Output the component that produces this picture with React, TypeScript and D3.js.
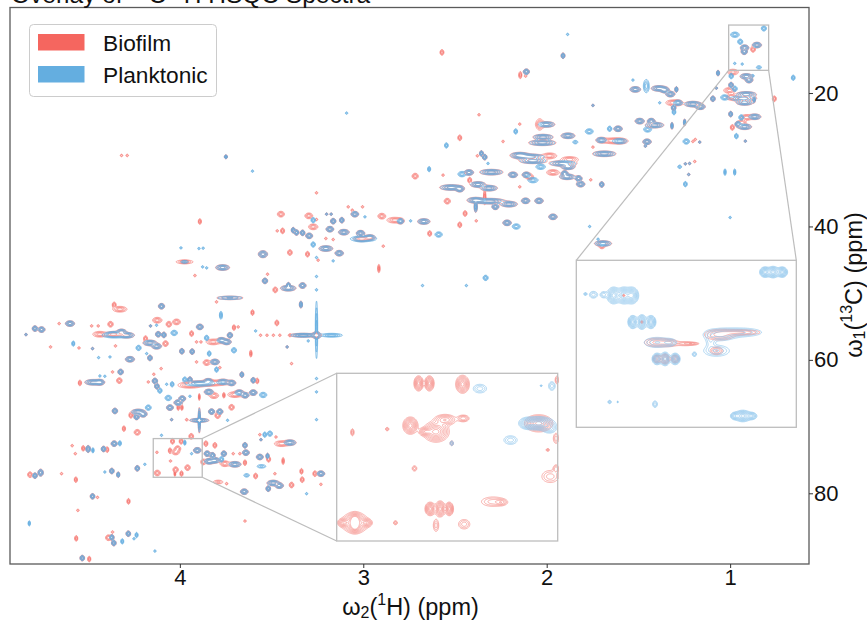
import React, { useEffect, useRef } from 'react';
import * as d3 from 'd3';

// peak tuples: [1H ppm, 13C ppm, 1H sigma, 13C sigma, height]; short tuples fall back to the defaults below
type Peak = number[];

const xTicks = [1, 2, 3, 4];
const yTicks = [20, 40, 60, 80];
const legendLabels = ['Biofilm', 'Planktonic'];

const sharedPeaks: Peak[] = [
  [3.749, 29.56, 0.004, 0.14], [3.2, 38.16], [3.175, 38.16], [3.046, 38.16, 0.01], [3.164, 39.21, 0.007], [3.117, 39.06, 0.006],
  [2.797, 39.21, 0.009], [2.67, 39.26, 0.016], [3.382, 40.56, 0.005], [3.364, 40.91, 0.006], [3.331, 40.96, 0.006], [3.295, 41.41, 0.009],
  [3.182, 40.41, 0.01], [3.106, 40.86, 0.014], [3.015, 41.01, 0.011], [2.964, 41.66, 0.014], [3.01, 41.86, 0.02], [3.204, 43.31, 0.018],
  [3.131, 44.01, 0.011], [3.547, 44.16, 0.012, 0.25], [3.974, 45.31, 0.012, 0.12, 0.6], [3.767, 46.16, 0.018], [3.536, 48.16, 0.007],
  [3.409, 49.26, 0.02], [3.408, 48.81, 0.005], [3.331, 48.86, 0.009], [3.727, 50.71, 0.04, 0.15, 0.55], [3.34, 51.71, 0.004, 0.25],
  [4.1, 51.96, 0.008], [1.911, 14.41, 0.005], [2.111, 16.81, 0.008], [1.748, 21.86], [2.002, 24.71, 0.022], [1.884, 26.41, 0.018],
  [2.02, 26.61, 0.026], [2.024, 27.46, 0.035], [1.611, 25.36, 0.011], [1.702, 27.06, 0.014], [1.602, 27.21, 0.02], [1.453, 27.31, 0.011],
  [1.462, 27.96], [1.493, 24.21, 0.012], [1.43, 24.21, 0.01], [1.412, 24.81, 0.024], [1.686, 29.11, 0.03], [2.356, 29.06, 0.005],
  [2.338, 29.61, 0.006], [2.147, 29.31, 0.024], [2.093, 29.56, 0.04], [2.075, 30.16, 0.035], [1.911, 30.56, 0.035], [1.884, 31.06, 0.018],
  [2.424, 31.91, 0.012], [2.302, 31.86, 0.03], [2.184, 32.26, 0.012], [2.111, 32.26, 0.011], [1.902, 32.06, 0.009], [1.888, 32.56, 0.02],
  [1.826, 32.81, 0.009], [1.815, 33.66, 0.011], [1.7, 33.71, 0.006], [2.375, 33.71, 0.02], [2.315, 34.26, 0.022], [2.52, 34.16, 0.03],
  [2.474, 34.41, 0.011], [2.387, 36.06, 0.022], [2.311, 36.21, 0.04], [2.206, 36.66, 0.022], [2.387, 37.06, 0.004, 0.4], [2.28, 37.06, 0.009],
  [2.115, 36.16, 0.011], [2.042, 36.16, 0.011], [2.216, 39.46, 0.011], [1.966, 38.56, 0.011], [1.693, 42.56, 0.022], [1.517, 19.46, 0.014],
  [1.388, 19.31, 0.02], [1.326, 20.16, 0.012], [1.357, 19.56, 0.012], [1.293, 19.46, 0.004], [1.284, 21.46, 0.012], [1.203, 21.66, 0.022],
  [1.163, 22.06, 0.013], [1.308, 22.21, 0.006], [1.317, 24.91, 0.003, 0.25], [1.248, 24.41, 0.003, 0.25], [1.166, 27.36], [1.244, 30.61],
  [1.221, 30.56], [1.226, 32.21], [1.066, 17.01, 0.004], [1.075, 19.26], [0.912, 17.51, 0.016], [0.897, 18.06, 0.01], [0.995, 18.81, 0.006],
  [1.094, 20.86, 0.006], [0.912, 20.21, 0.026], [0.93, 20.81, 0.035], [0.921, 21.41, 0.022], [0.87, 21.01, 0.003, 0.2], [0.997, 23.16, 0.005],
  [0.866, 23.56, 0.016], [0.921, 25.06, 0.018], [0.957, 24.66, 0.008], [0.917, 27.21], [0.854, 12.81, 0.012], [0.921, 13.21, 0.011],
  [0.923, 13.81, 0.008], [4.79, 55.31, 0.007], [4.754, 55.46, 0.009], [4.839, 56.21], [4.599, 54.56, 0.012], [4.318, 55.81, 0.013],
  [4.29, 56.31, 0.02], [4.363, 56.16, 0.02], [4.476, 58.31], [4.272, 59.91, 0.012], [4.163, 59.71, 0.006], [4.323, 61.81, 0.007],
  [4.472, 63.36, 0.022], [4.436, 63.36, 0.012], [4.354, 67.66, 0.007], [4.227, 67.81, 0.018], [4.236, 68.56, 0.007], [4.2, 68.16, 0.01],
  [4.16, 54.91], [3.891, 55.06, 0.009], [4.118, 56.16, 0.007], [4.087, 56.26, 0.006], [4.163, 57.46, 0.018], [4.127, 57.96, 0.013],
  [3.989, 58.71, 0.006], [3.933, 58.76, 0.006], [3.727, 56.31, 0.007], [3.773, 57.06, 0.012], [3.745, 57.31, 0.012], [3.415, 58.06],
  [3.809, 60.31, 0.012], [3.662, 62.21, 0.005], [3.6, 63.06, 0.006], [3.945, 62.96, 0.006], [3.891, 63.56, 0.04], [3.845, 63.21, 0.012],
  [3.764, 63.31, 0.016], [3.718, 63.46, 0.011], [4.136, 63.16, 0.007], [4.125, 63.96, 0.006], [3.842, 64.81, 0.012], [3.676, 64.91, 0.012],
  [3.644, 65.31, 0.01], [3.6, 64.91, 0.01], [4.009, 66.41, 0.011], [3.987, 65.81, 0.009], [4.054, 67.16, 0.009], [3.827, 67.76, 0.008],
  [3.782, 67.76, 0.008], [3.894, 69.06, 0.025, 0.14], [3.894, 69.06, 0.003, 0.9], [4.045, 68.96], [3.905, 73.56, 0.01], [3.851, 74.06, 0.008],
  [3.822, 74.31, 0.007], [3.84, 75.21, 0.013], [3.809, 75.06, 0.013], [3.76, 74.06, 0.007], [3.7, 75.66, 0.016], [3.64, 73.91, 0.009],
  [3.645, 72.81, 0.006], [3.564, 74.56, 0.009], [3.522, 74.41, 0.004], [3.558, 71.96], [3.4, 72.41, 0.016], [3.231, 77.06, 0.01],
  [3.491, 78.46, 0.016], [3.458, 78.86, 0.011], [3.518, 79.31, 0.006], [3.649, 79.76, 0.01], [4.759, 76.91, 0.007, 0.25], [4.79, 77.36, 0.006],
  [4.476, 80.46, 0.006, 0.2], [4.371, 86.61, 0.006], [4.281, 86.06, 0.006], [4.36, 87.46, 0.006], [4.532, 89.71, 0.006], [4.5, 73.36, 0.006, 0.25],
  [4.416, 73.36, 0.006], [4.358, 72.56, 0.008], [4.371, 76.66, 0.006], [4.336, 77.21, 0.004], [4.232, 76.26, 0.006],
  [3.327, 56.31, 0.035, 0.14], [3.255, 56.31, 0.012, 0.25],
];

const biofilmPeaks: Peak[] = [
  [4.318, 29.36], [4.287, 29.36], [3.891, 39.26, 0.004], [2.717, 32.46, 0.008], [3.449, 38.16, 0.009], [3.297, 38.41, 0.01],
  [3.082, 37.06], [3.004, 37.06], [3.06, 37.56], [3.255, 38.96], [2.899, 38.46, 0.01], [2.828, 39.06, 0.02], [3.273, 40.06, 0.012],
  [3.44, 40.66, 0.005], [3.469, 40.66], [3.164, 41.96], [3.204, 41.81], [2.891, 42.96], [3.4, 43.91, 0.006], [3.304, 44.16, 0.005],
  [3.246, 45.06], [2.915, 46.31, 0.003, 0.3], [3.974, 45.31, 0.025, 0.15, 0.6], [3.918, 47.36], [3.522, 47.16], [3.48, 49.51, 0.006],
  [3.8, 51.31], [4.358, 51.76, 0.005], [4.327, 52.41, 0.018], [2.571, 13.91, 0.005], [2.144, 17.31, 0.004, 0.25], [2.115, 17.46],
  [2.369, 23.26], [2.147, 24.66], [2.038, 24.71, 0.01, 0.4], [2.474, 26.71, 0.005], [2.238, 27.26], [1.639, 27.16, 0.03], [1.748, 28.11],
  [2.378, 29.41], [1.984, 29.41, 0.018], [1.875, 29.96, 0.022], [2.565, 32.31], [2.093, 32.56, 0.01], [1.966, 31.91, 0.016], [1.76, 33.01],
  [2.42, 33.06, 0.005], [2.542, 36.21, 0.008], [2.338, 35.56, 0.003, 0.5], [2.445, 38.06, 0.005], [2.474, 39.76, 0.005], [2.384, 39.16],
  [2.147, 34.06], [2.638, 41.06, 0.005], [1.699, 42.91, 0.008], [1.312, 21.46, 0.018], [1.203, 27.26], [1.19, 26.96], [1.193, 30.26],
  [0.985, 16.86, 0.014], [1.003, 19.61, 0.015], [0.994, 20.56, 0.012], [0.759, 20.86, 0.005], [0.912, 23.66, 0.014], [0.934, 24.41, 0.01],
  [0.988, 25.16, 0.005], [0.875, 13.46, 0.006], [4.658, 54.56], [4.705, 58.06], [4.481, 54.91], [4.445, 54.91], [4.378, 54.66, 0.007],
  [4.436, 56.16, 0.018], [4.55, 58.21], [4.351, 57.91], [4.367, 61.81], [4.33, 63.11, 0.007], [4.545, 63.46, 0.004], [4.267, 68.31, 0.005],
  [4.305, 70.31, 0.004], [4.232, 70.86, 0.008], [4.123, 54.06, 0.012], [4.018, 54.31, 0.01], [4.06, 54.66, 0.007], [4.187, 56.81, 0.005],
  [4.078, 57.56, 0.007], [3.936, 56.06, 0.005], [3.818, 57.31, 0.018], [3.705, 55.16, 0.004], [3.682, 55.06], [3.471, 54.46, 0.005],
  [3.604, 52.91, 0.004], [3.885, 57.31], [3.909, 57.31], [3.613, 59.06, 0.003, 0.25], [3.391, 60.56], [3.854, 60.41, 0.009], [3.909, 60.31],
  [3.782, 61.16], [4.102, 61.31], [4.142, 62.16], [3.578, 63.16, 0.004], [3.945, 63.81, 0.03], [3.818, 63.46, 0.03], [4.172, 63.31],
  [3.814, 65.36, 0.012], [3.76, 65.31, 0.003], [3.7, 65.21, 0.018], [4.009, 67.16, 0.003], [3.989, 67.16, 0.003], [3.894, 65.56, 0.002, 0.25],
  [3.718, 67.11, 0.007], [3.794, 68.36, 0.007], [3.963, 68.96], [3.938, 71.46, 0.006], [4.04, 72.21, 0.005], [3.993, 72.21, 0.005],
  [4.125, 73.86], [4.054, 73.61, 0.004], [4.023, 73.81, 0.01], [4.012, 73.31, 0.008], [4.023, 76.46, 0.007], [3.958, 76.16, 0.007],
  [4.123, 76.96, 0.008], [4.027, 77.06, 0.002, 0.2], [3.991, 77.06, 0.004], [4.051, 75.16], [3.873, 75.31, 0.006], [3.755, 75.56, 0.012],
  [3.645, 75.41, 0.004], [3.709, 74.06], [3.673, 74.06], [3.516, 74.91, 0.005], [3.437, 75.16, 0.003, 0.25], [3.858, 72.56, 0.005],
  [3.809, 72.81, 0.005], [3.476, 71.56], [3.564, 71.21], [3.446, 72.56, 0.018], [3.587, 77.41, 0.005], [3.482, 77.06], [3.337, 76.71, 0.004],
  [3.333, 77.96, 0.005], [3.264, 77.06, 0.005], [3.231, 78.66], [3.391, 78.76, 0.006], [3.791, 78.31, 0.014, 0.15, 0.6], [3.745, 78.56],
  [3.645, 84.16], [4.817, 77.21, 0.006], [4.645, 77.06], [4.567, 77.96, 0.004], [4.449, 80.61], [4.28, 81.21, 0.004], [4.556, 82.56],
  [4.565, 86.76, 0.004], [4.39, 86.66, 0.007], [4.367, 85.81], [4.494, 89.86, 0.004], [4.587, 72.86], [4.57, 74.06], [4.527, 73.26, 0.004],
  [4.396, 73.46, 0.004], [3.56, 56.31], [3.525, 56.31], [3.49, 56.31], [3.455, 56.31], [3.4, 56.31], [3.255, 34.96],
];

const planktonicPeaks: Peak[] = [
  [2.641, 31.41, 0.004], [3.604, 31.71], [3.091, 23.01], [2.991, 38.56], [3.273, 39.06, 0.006], [2.742, 39.16], [3.0, 41.86, 0.035],
  [3.273, 42.71, 0.006], [3.255, 44.66], [3.164, 45.16], [3.876, 46.06], [3.854, 46.21], [3.994, 43.21], [3.896, 43.31], [3.873, 43.26],
  [2.677, 48.86], [1.886, 11.21], [2.169, 25.76, 0.005], [2.547, 27.86, 0.005], [1.844, 27.36, 0.008, 0.15, 0.6], [1.768, 25.76, 0.011],
  [1.657, 25.36, 0.006], [1.45, 25.46, 0.011], [2.32, 30.56], [2.033, 31.06, 0.013], [2.462, 32.16, 0.011], [2.075, 33.06, 0.014],
  [2.166, 40.01, 0.011], [1.766, 40.01], [2.589, 41.21, 0.01], [2.333, 47.71, 0.007], [2.438, 48.86], [1.72, 41.91], [1.53, 18.06],
  [1.457, 18.96, 0.008, 0.5], [1.306, 22.86, 0.005], [1.384, 21.46], [1.239, 27.26, 0.009], [1.275, 31.06, 0.006, 0.15, 0.6], [1.244, 33.66, 0.005],
  [1.028, 31.86, 0.003, 0.25], [0.975, 31.86, 0.003, 0.25], [1.0, 38.66], [0.994, 17.46, 0.006], [0.975, 19.36, 0.007], [1.03, 20.66, 0.011],
  [0.656, 17.71, 0.005], [0.876, 17.41], [0.939, 23.66, 0.007], [0.966, 26.46, 0.005], [0.974, 11.26, 0.012], [0.816, 10.31, 0.007],
  [0.945, 12.31, 0.007], [0.975, 15.56], [0.934, 15.66], [0.843, 16.16, 0.008, 0.15, 0.6], [4.354, 56.31, 0.035], [4.581, 57.56, 0.004],
  [4.443, 59.66], [4.381, 59.56], [4.436, 62.41], [4.409, 62.46], [4.172, 67.16, 0.008], [4.127, 54.81], [4.031, 55.96, 0.009],
  [4.225, 58.21, 0.007], [4.181, 59.06], [3.84, 59.06, 0.005], [3.705, 58.56, 0.007], [3.854, 56.71, 0.006], [3.776, 53.31, 0.004, 0.3],
  [3.587, 55.66], [3.173, 56.31, 0.03, 0.14], [3.255, 55.5, 0.0032, 2.2], [3.3, 57.16], [3.8, 61.46, 0.005], [3.973, 62.96, 0.006],
  [4.072, 63.66], [4.042, 63.66, 0.005], [4.109, 64.61, 0.006], [3.546, 65.26, 0.01], [4.063, 65.71, 0.009], [3.945, 65.46], [3.74, 69.06],
  [4.1, 71.31], [3.973, 72.41, 0.003], [3.936, 74.06], [3.773, 74.91, 0.006], [3.509, 71.06, 0.007], [3.537, 71.21, 0.005],
  [3.555, 75.96, 0.014, 0.15, 0.6], [3.636, 77.31, 0.009, 0.15, 0.6], [3.309, 80.06], [4.821, 84.51, 0.003], [4.314, 87.21, 0.004],
  [4.25, 86.81], [4.236, 86.26, 0.004], [4.136, 88.66], [4.474, 73.56, 0.003], [4.327, 72.51, 0.004], [4.409, 76.81], [4.191, 75.66],
  [3.255, 62.8], [3.255, 64.8], [3.255, 68.96], [3.255, 47.5], [3.255, 49.5],
];

// the two zoomed boxes, same tuple layout, read at the inset's own scale
const inset1Domain = { x: [4.145, 3.878], y: [71.8, 77.6] };
const inset1Biofilm: Peak[] = [
  [4.046, 72.15, 0.0027, 0.123], [4.033, 72.15, 0.0027, 0.123], [3.993, 72.18, 0.0039, 0.146], [4.056, 73.61, 0.0043, 0.14],
  [4.025, 73.82, 0.0075, 0.17], [4.038, 73.82, 0.004, 0.07, 0.6], [4.014, 73.41, 0.0069, 0.1, 0.6], [3.992, 73.36, 0.004, 0.067, 0.45],
  [4.126, 73.84, 0.0012, 0.073, 0.4], [4.084, 73.73, 0.0014, 0.039, 0.3], [4.051, 75.09, 0.0019, 0.062, 0.3], [4.006, 74.22, 0.0014, 0.055, 0.3],
  [4.032, 76.49, 0.003, 0.11], [4.02, 76.49, 0.003, 0.13], [4.009, 76.49, 0.0024, 0.11], [3.956, 76.24, 0.0095, 0.11, 0.3], [3.946, 76.26, 0.004, 0.06, 0.3],
  [4.123, 76.97, 0.0078, 0.17], [4.137, 76.97, 0.0035, 0.07, 0.6], [4.109, 76.97, 0.0035, 0.07, 0.6], [4.123, 76.82, 0.0035, 0.1, 0.6], [4.123, 77.12, 0.0035, 0.1, 0.6],
  [4.074, 76.97, 0.0016, 0.047, 0.3], [4.025, 77.06, 0.0022, 0.14, 0.3], [3.991, 77.02, 0.0046, 0.11, 0.3], [3.901, 73.53, 0.008, 0.14],
  [3.879, 72.03, 0.0014, 0.09, 0.3], [3.89, 74.45, 0.0014, 0.03, 0.3], [3.887, 75.37, 0.0068, 0.14, 0.3], [3.88, 74.05, 0.0022, 0.117, 0.3], [3.88, 75.1, 0.0022, 0.09, 0.3],
];
const inset1Planktonic: Peak[] = [
  [3.972, 72.33, 0.0054, 0.1, 0.3], [3.901, 73.53, 0.009, 0.11], [3.915, 73.53, 0.005, 0.1, 0.6], [3.935, 74.11, 0.0054, 0.1, 0.3],
  [3.885, 72.24, 0.0027, 0.1, 0.3], [4.006, 74.22, 0.0014, 0.055, 0.3], [3.888, 73.7, 0.005, 0.1, 0.4], [3.898, 72.23, 0.0008, 0.02, 0.3],
];

const inset2Domain = { x: [1.008, 0.79], y: [9.81, 16.6] };
const inset2Biofilm: Peak[] = [
  [0.961, 11.24, 0.0008, 0.03, 0.3], [0.943, 12.32, 0.0008, 0.04, 0.3], [0.928, 13.15, 0.0075, 0.11, 0.4], [0.915, 13.17, 0.005, 0.09, 0.3],
  [0.9, 13.2, 0.006, 0.055, 0.3], [0.893, 13.2, 0.004, 0.03, 0.3], [0.928, 13.82, 0.0023, 0.09, 0.5], [0.92, 13.82, 0.0023, 0.11, 0.6],
  [0.91, 13.82, 0.0023, 0.09, 0.5], [0.866, 12.84, 0.009, 0.13, 0.4], [0.845, 12.74, 0.012, 0.07, 0.35], [0.869, 13.49, 0.004, 0.1, 0.35],
];
const inset2Planktonic: Peak[] = [
  [0.821, 10.29, 0.0025, 0.1], [0.813, 10.29, 0.0028, 0.11], [0.804, 10.29, 0.0025, 0.1], [0.971, 11.24, 0.0032, 0.16], [0.961, 11.24, 0.0032, 0.16],
  [0.953, 11.24, 0.0032, 0.16], [0.991, 11.21, 0.0027, 0.092, 0.3], [0.999, 11.18, 0.0011, 0.037, 0.3], [0.981, 11.21, 0.0022, 0.083, 0.3],
  [0.952, 12.32, 0.0023, 0.125], [0.943, 12.32, 0.0023, 0.14], [0.934, 12.32, 0.0023, 0.125], [0.928, 13.15, 0.008, 0.13, 0.35], [0.915, 13.15, 0.004, 0.09, 0.3],
  [0.928, 13.82, 0.0023, 0.11], [0.92, 13.82, 0.0023, 0.13], [0.91, 13.82, 0.0023, 0.11], [0.891, 13.63, 0.0014, 0.06, 0.3], [0.866, 12.84, 0.01, 0.15, 0.35],
  [0.845, 12.74, 0.013, 0.11, 0.35], [0.869, 13.49, 0.008, 0.14, 0.35], [0.875, 13.1, 0.003, 0.2, 0.2], [0.975, 15.57, 0.0011, 0.046, 0.3], [0.967, 15.57, 0.0005, 0.02, 0.3],
  [0.93, 15.66, 0.0016, 0.09, 0.3], [0.843, 16.14, 0.004, 0.11], [0.851, 16.14, 0.0022, 0.075, 0.6], [0.834, 16.14, 0.0026, 0.075, 0.6],
];

const RED = '#f5665f';
const BLUE = '#64aee0';
const FONT = '"Liberation Sans", Arial, sans-serif';

const frame = { left: 10, right: 809, top: 7.5, bottom: 564 };
const xDomain = [4.926, 0.57];
const yDomain = [7.18, 90.6];

// adds gaussian blobs for the peak list on a grid and lets d3.contours trace them
function drawContours(g: any, peaks: Peak[], x: any, y: any, w: number, h: number, res: number, levels: number[], color: string, lw: number, grow = 1) {
  const n = Math.ceil(w * res);
  const m = Math.ceil(h * res);
  const grid = new Float64Array(n * m);
  const xPerPpm = Math.abs(x(1) - x(0));
  const yPerPpm = Math.abs(y(1) - y(0));

  peaks.forEach(p => {
    const sx = (p[2] ?? 0.004) * xPerPpm * grow;
    const sy = (p[3] ?? (p[2] === undefined ? 0.11 : 0.2)) * yPerPpm * grow;
    const amp = p[4] ?? (p[2] === undefined ? 0.5 : 1);
    const cx = x(p[0]);
    const cy = y(p[1]);
    const i0 = Math.max(0, Math.floor((cx - 4 * sx) * res));
    const i1 = Math.min(n - 1, Math.ceil((cx + 4 * sx) * res));
    const j0 = Math.max(0, Math.floor((cy - 4 * sy) * res));
    const j1 = Math.min(m - 1, Math.ceil((cy + 4 * sy) * res));
    for (let j = j0; j <= j1; j++) {
      for (let i = i0; i <= i1; i++) {
        const dx = ((i + 0.5) / res - cx) / sx;
        const dy = ((j + 0.5) / res - cy) / sy;
        grid[j * n + i] += amp * Math.exp(-0.5 * (dx * dx + dy * dy));
      }
    }
  });

  const contours = d3.contours().size([n, m]).thresholds(levels)(Array.from(grid));
  const path = d3.geoPath(d3.geoIdentity().scale(1 / res));
  g.append('g')
    .selectAll('path')
    .data(contours)
    .join('path')
    .attr('d', path)
    .attr('fill', 'none')
    .attr('stroke', color)
    .attr('stroke-width', lw);
}

const App = () => {
  const svgRef = useRef<SVGSVGElement>(null);

  useEffect(() => {
    const svg = d3.select(svgRef.current);
    svg.selectAll('*').remove();

    const defs = svg.append('defs');
    defs.append('filter').attr('id', 'soft').attr('x', '-2%').attr('y', '-2%').attr('width', '104%').attr('height', '104%')
      .attr('color-interpolation-filters', 'sRGB')
      .append('feGaussianBlur').attr('stdDeviation', 0.4);

    const W = frame.right - frame.left;
    const H = frame.bottom - frame.top;
    const x = d3.scaleLinear().domain(xDomain).range([0, W]);
    const y = d3.scaleLinear().domain(yDomain).range([0, H]);

    const plot = svg.append('g').attr('transform', `translate(${frame.left},${frame.top})`);
    const spectra = plot.append('g').attr('filter', 'url(#soft)');
    drawContours(spectra, [...sharedPeaks, ...biofilmPeaks], x, y, W, H, 2, [0.14, 0.3, 0.5, 0.75], RED, 0.6, 1.08);
    drawContours(spectra, [...sharedPeaks, ...planktonicPeaks], x, y, W, H, 2, [0.14, 0.3, 0.5, 0.75], BLUE, 0.85);

    plot.append('rect').attr('width', W).attr('height', H).attr('fill', 'none').attr('stroke', '#5a5a5a').attr('stroke-width', 1.3);

    // axes
    const xAxis = plot.append('g').attr('transform', `translate(0,${H})`)
      .call(d3.axisBottom(x).tickValues(xTicks).tickFormat(d3.format('d')).tickSize(4).tickPadding(1));
    const yAxis = plot.append('g').attr('transform', `translate(${W},0)`)
      .call(d3.axisRight(y).tickValues(yTicks).tickFormat(d3.format('d')).tickSize(4).tickPadding(1));
    [xAxis, yAxis].forEach(a => {
      a.select('.domain').remove();
      a.selectAll('line').attr('stroke', '#333').attr('stroke-width', 1);
      a.selectAll('text').attr('font-family', FONT).attr('font-size', 22).attr('fill', '#111');
    });

    // zoom boxes and connector lines
    const boxes = [
      {
        domain: inset1Domain, bio: inset1Biofilm, plank: inset1Planktonic,
        rect: [336.7, 373.3, 557.7, 541],
        lines: [[1, 1, 0, 1], [1, 0, 0, 0]],
      },
      {
        domain: inset2Domain, bio: inset2Biofilm, plank: inset2Planktonic,
        rect: [576.3, 260.3, 796.3, 427.3],
        lines: [[0, 1, 0, 0], [1, 1, 1, 0]],
      },
    ];

    boxes.forEach(b => {
      const [rx0, ry0, rx1, ry1] = b.rect;
      const bx0 = x(b.domain.x[0]) + frame.left;
      const bx1 = x(b.domain.x[1]) + frame.left;
      const by0 = y(b.domain.y[0]) + frame.top;
      const by1 = y(b.domain.y[1]) + frame.top;

      b.lines.forEach(([fx, fy, tx, ty]) => {
        svg.append('line')
          .attr('x1', fx ? bx1 : bx0).attr('y1', fy ? by1 : by0)
          .attr('x2', tx ? rx1 : rx0).attr('y2', ty ? ry1 : ry0)
          .attr('stroke', '#bdbdbd').attr('stroke-width', 1.2);
      });
      svg.append('rect').attr('x', bx0).attr('y', by0).attr('width', bx1 - bx0).attr('height', by1 - by0)
        .attr('fill', 'none').attr('stroke', '#bdbdbd').attr('stroke-width', 1.3);

      const g = svg.append('g').attr('transform', `translate(${rx0},${ry0})`);
      const iw = rx1 - rx0;
      const ih = ry1 - ry0;
      g.append('rect').attr('width', iw).attr('height', ih).attr('fill', '#fff');
      const ix = d3.scaleLinear().domain(b.domain.x).range([0, iw]);
      const iy = d3.scaleLinear().domain(b.domain.y).range([0, ih]);
      const ilevels = [0.1, 0.16, 0.24, 0.34, 0.46, 0.6, 0.75, 0.9];
      const soft = g.append('g').attr('filter', 'url(#soft)');
      drawContours(soft, b.bio, ix, iy, iw, ih, 2, ilevels, '#f58f8a', 0.7);
      drawContours(soft, b.plank, ix, iy, iw, ih, 2, ilevels, '#8fc6ec', 0.7);
      g.append('rect').attr('width', iw).attr('height', ih).attr('fill', 'none').attr('stroke', '#bdbdbd').attr('stroke-width', 1.3);
    });

    // legend
    const legend = svg.append('g').attr('transform', 'translate(29.5,24.5)');
    legend.append('rect').attr('width', 187).attr('height', 72).attr('rx', 4)
      .attr('fill', '#fff').attr('fill-opacity', 0.8).attr('stroke', '#ccc').attr('stroke-width', 1);
    legendLabels.forEach((name, i) => {
      legend.append('rect').attr('x', 8.5).attr('y', 9.5 + i * 32).attr('width', 46.5).attr('height', 16.5)
        .attr('fill', i === 0 ? RED : BLUE);
      legend.append('text').attr('x', 73.5).attr('y', 26 + i * 32).attr('font-family', FONT).attr('font-size', 22.7)
        .attr('fill', '#111').text(name);
    });
  }, []);

  const sup = (size: number) => ({ baselineShift: '10px', fontSize: size } as React.CSSProperties);
  const sub = (size: number) => ({ baselineShift: '-3px', fontSize: size } as React.CSSProperties);
  const label = { fontFamily: FONT, fontSize: 23.5, fill: '#111' };

  return (
    <svg width={867} height={620} style={{ position: 'absolute', left: 0, top: 0, background: '#fff' }}>
      <g ref={svgRef as any}></g>
      <text x={11} y={2.5} {...label} fontSize={24.5}>
        Overlay of <tspan style={sup(17)}>13</tspan>C-<tspan style={sup(17)}>1</tspan>H HSQC Spectra
      </text>
      <text x={410.5} y={615} textAnchor="middle" {...label}>
        ω<tspan style={sub(16)}>2</tspan>(<tspan style={sup(16)}>1</tspan>H) (ppm)
      </text>
      <text transform="translate(862,285) rotate(-90)" textAnchor="middle" {...label}>
        ω<tspan style={sub(16)}>1</tspan>(<tspan style={sup(16)}>13</tspan>C) (ppm)
      </text>
    </svg>
  );
};

export default App;
